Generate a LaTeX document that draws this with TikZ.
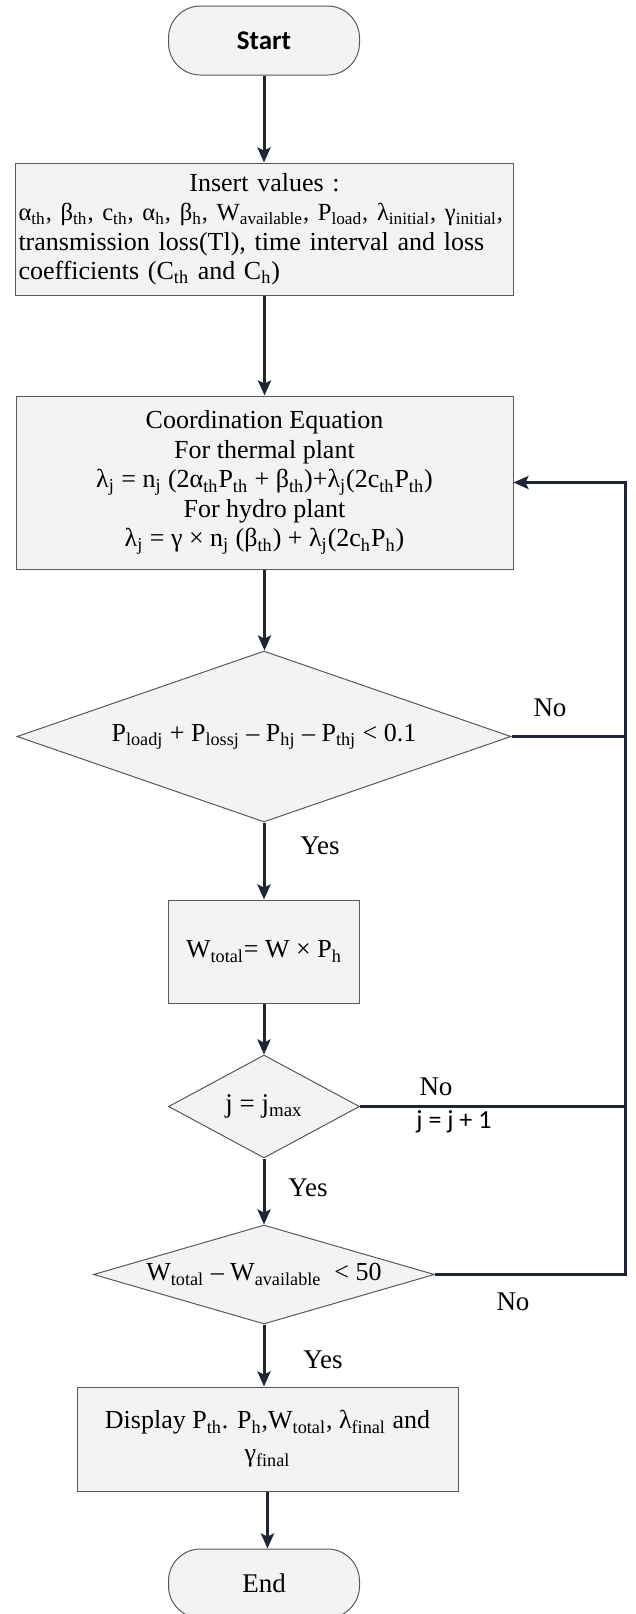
\documentclass[tikz,border=0pt]{standalone}
\usepackage{fontspec}
\setmainfont{Liberation Serif}
\newfontfamily\calibri{Carlito}
\usetikzlibrary{shapes.geometric,arrows.meta}

\definecolor{boxfill}{HTML}{F3F3F3}
\definecolor{lineclr}{HTML}{1E2636}
\newcommand{\lw}[1]{\textsubscript{#1}}

\tikzset{
  base/.style={draw=black!65, line width=0.5pt, fill=boxfill, inner sep=2pt},
  term/.style={base, rounded corners=16pt, minimum width=95.5pt, minimum height=34.5pt},
  proc/.style={base, rectangle, align=center},
  dec/.style={base, diamond, inner sep=0pt},
  flow/.style={draw=lineclr, line width=1.5pt, -{Stealth[length=7.5pt,width=6.5pt,inset=1.5pt]}},
  link/.style={draw=lineclr, line width=1.3pt},
  lbl/.style={font=\fontsize{13.5}{15}\selectfont}
}

\begin{document}
\begin{tikzpicture}[x=0.5pt, y=-0.5pt, font=\fontsize{13}{14.75}\selectfont]
  \useasboundingbox (0,0) rectangle (636,1614);

  \node [term, font=\calibri\bfseries\fontsize{13.5}{15}\selectfont] (start) at (264,40.5) {Start};
  \node [proc, minimum width=248.5pt, minimum height=66pt, text width=246pt, inner sep=1.5pt, align=left] (insert) at (264.5,229)
    {{\centering Insert values :\par}
     {\fontsize{12.3}{14.75}\selectfont α\lw{th}, β\lw{th}, c\lw{th}, α\lw{h}, β\lw{h}, W\lw{available}, P\lw{load}, λ\lw{initial}, γ\lw{initial},}\\
     transmission loss(Tl), time interval and loss\\ coefficients (C\lw{th} and C\lw{h})};
  \node [proc, minimum width=248.5pt, minimum height=86.5pt] (coord) at (264.5,482.5)
    {Coordination Equation\\ For thermal plant\\
     λ\lw{j} = n\lw{j} (2α\lw{th}P\lw{th} + β\lw{th})+λ\lw{j}(2c\lw{th}P\lw{th})\\
     For hydro plant\\ λ\lw{j} = γ × n\lw{j} (β\lw{th}) + λ\lw{j}(2c\lw{h}P\lw{h})};
  \node [dec, aspect=2.89, minimum width=247pt, minimum height=85.5pt] (d1) at (264,736.5)
    {P\lw{loadj} + P\lw{lossj} – P\lw{hj} – P\lw{thj} < 0.1};
  \node [proc, minimum width=95.5pt, minimum height=51.5pt] (wbox) at (264,951.5)
    {W\lw{total}= W × P\lw{h}};
  \node [dec, aspect=1.85, minimum width=95.5pt, minimum height=51.5pt, font=\fontsize{13.5}{15}\selectfont] (d2) at (264,1106.5)
    {j = j\lw{max}};
  \node [dec, aspect=3.44, minimum width=170.5pt, minimum height=49.5pt] (d3) at (264,1274.5)
    {W\lw{total} – W\lw{available}~ < 50};
  \node [proc, minimum width=190.5pt, minimum height=52pt, font=\fontsize{13}{16.5}\selectfont] (disp) at (267.5,1439)
    {Display P\lw{th}. P\lw{h},W\lw{total}, λ\lw{final} and\\ γ\lw{final}};
  \node [term, font=\fontsize{13.5}{15}\selectfont] (stop) at (264,1583.5) {End};

  % main flow
  \foreach \a/\b in {start/insert, insert/coord, coord/d1, d1/wbox, wbox/d2, d2/d3, d3/disp, disp/stop}
    \draw [flow] (\a) -- (\a |- \b.north);

  % loop back
  \coordinate (rt) at (625,736.5);
  \draw [link] (d1.east) -- (d1.east -| rt);
  \draw [link] (d2.east) -- (d2.east -| rt);
  \draw [flow] (d3.east) -| (rt) |- (coord.east);

  \node [lbl] (no1) at (550,708) {No};
  \node [lbl] (yes1) at (320,846) {Yes};
  \node [lbl] (no2) at (436,1087) {No};
  \node [font=\calibri\fontsize{13}{14}\selectfont] (jinc) at (454,1122) {j = j + 1};
  \node [lbl] (yes2) at (308,1188) {Yes};
  \node [lbl] (no3) at (513,1302) {No};
  \node [lbl] (yes3) at (323,1360) {Yes};
\end{tikzpicture}
\end{document}
